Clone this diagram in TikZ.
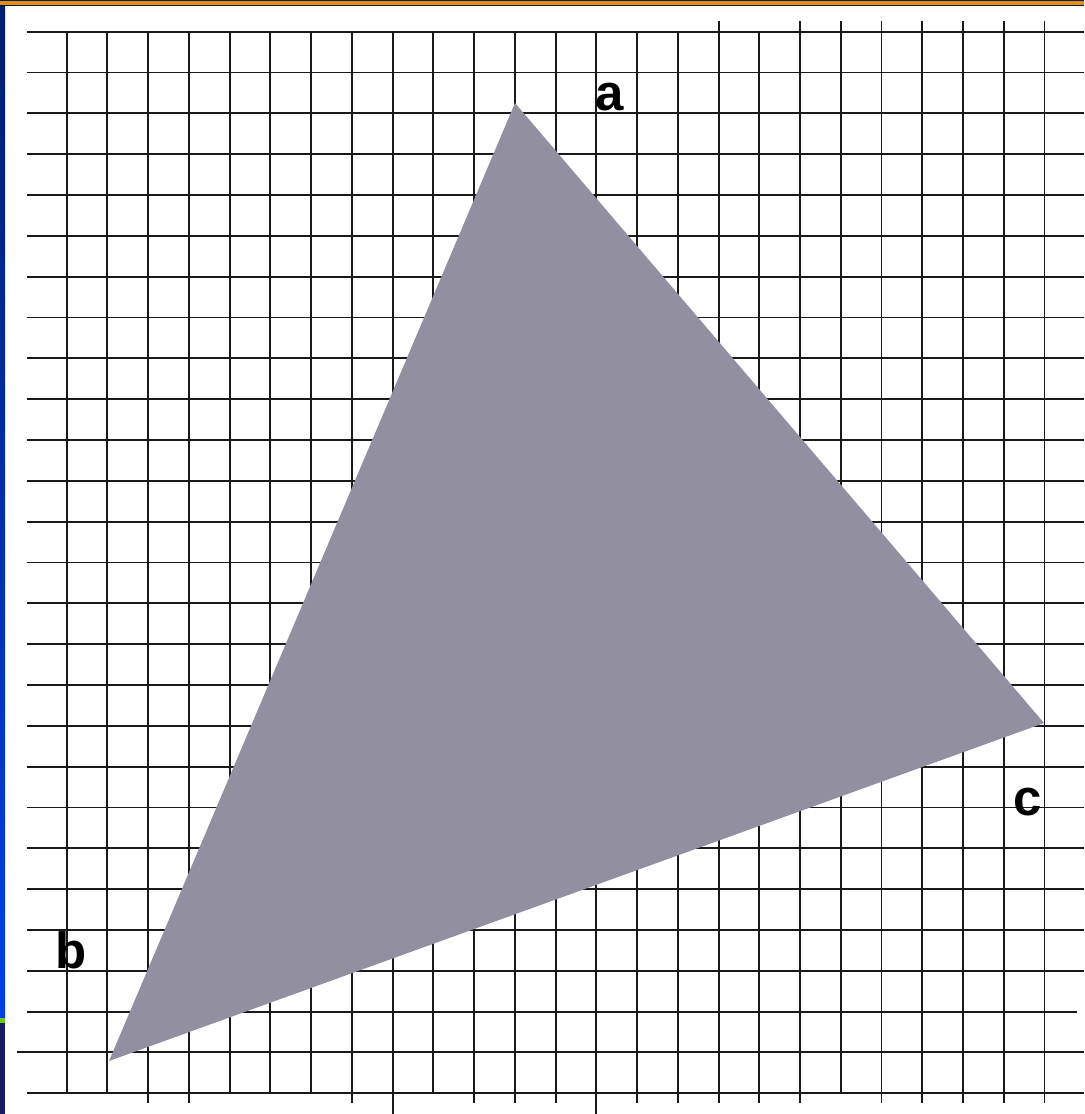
\documentclass[tikz,border=0pt]{standalone}
\usepackage{fontspec}
\setmainfont{Liberation Sans}
\usepackage{xcolor}
\definecolor{slidenavy}{RGB}{0,30,110}
\definecolor{slideblue}{RGB}{0,64,230}
\definecolor{slideorange}{RGB}{232,140,0}
\definecolor{slidegreen}{RGB}{110,200,20}
\definecolor{slidedeep}{RGB}{25,25,95}
\definecolor{trigray}{RGB}{145,143,160}
\usetikzlibrary{calc}
\tikzset{
  gridline/.style={line width=1.1pt,draw=black!90},
  trifill/.style ={fill=trigray,draw=none},
  vlabel/.style  ={font=\fontsize{29}{31}\selectfont\bfseries,inner sep=0pt},
}

\begin{document}
\begin{tikzpicture}[x=0.02cm,y=-0.02cm]
  \useasboundingbox (0,0) rectangle (1084,1114);
  % slide frame
  \fill[slideorange] (0,0) rectangle (1084,6.5);
  \fill[slidenavy] (0,0) rectangle (1084,1.2);
  \fill[slidenavy!70!black] (0,5.5) rectangle (1084,6.5);
  \shade[top color=slidenavy,bottom color=slideblue] (0,6.5) rectangle (5,1018);
  \fill[slidegreen] (0,1018) rectangle (5,1023);
  \fill[slidedeep] (0,1023) rectangle (5,1114);
  % squared paper
  \foreach \k in {0,...,23,26}
    \draw[gridline] (27,{31.7+40.83*\k}) -- (1084,{31.7+40.83*\k});
  \draw[gridline] (27,{31.7+40.83*24}) -- (1077,{31.7+40.83*24});
  \draw[gridline] (17,{31.7+40.83*25}) -- (1084,{31.7+40.83*25});
  \foreach \i in {0,...,24}
    \draw[gridline] ({66.7+40.74*\i},31.7) -- ({66.7+40.74*\i},1093.3);
  \foreach \i in {16,18,19,20,21,22,23,24}
    \draw[gridline] ({66.7+40.74*\i},21) -- ({66.7+40.74*\i},31.7);
  \foreach \i in {2,3,7,10,11,12,14,15,16,17,18,20,21,22,23,24}
    \draw[gridline] ({66.7+40.74*\i},1093.3) -- ({66.7+40.74*\i},1103);
  \foreach \i in {8,13}
    \draw[gridline] ({66.7+40.74*\i},1093.3) -- ({66.7+40.74*\i},1114);
  % triangle
  \coordinate (a) at (515,103);
  \coordinate (b) at (109,1061);
  \coordinate (c) at (1044,723);
  \fill[trifill] (a) -- (b) -- (c) -- cycle;
  \node[vlabel] (lbla) at (610,97.5) {a};
  \node[vlabel] (lblb) at (71.5,950.5) {b};
  \node[vlabel] (lblc) at (1028,802) {c};
\end{tikzpicture}
\end{document}
